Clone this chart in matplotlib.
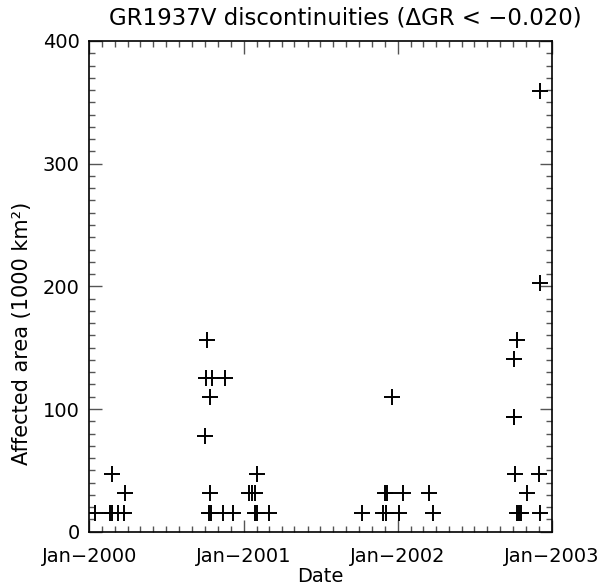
import numpy as np
import pandas as pd
import matplotlib
matplotlib.use("Agg")
import matplotlib.pyplot as plt
import matplotlib.dates as mdates

# discontinuity dates and affected area (1000 km^2)
dates = ["2000-01-14", "2000-02-20", "2000-02-23", "2000-02-24", "2000-03-08",
         "2000-03-24", "2000-03-26", "2000-10-02", "2000-10-04", "2000-10-06",
         "2000-10-11", "2000-10-14", "2000-10-14", "2000-10-16", "2000-10-17",
         "2000-11-13", "2000-11-18", "2000-12-07",
         "2001-01-14", "2001-01-21", "2001-01-28", "2001-01-28", "2001-02-01",
         "2001-02-02", "2001-03-01", "2001-10-07", "2001-11-27", "2001-12-01",
         "2001-12-03", "2001-12-05", "2001-12-18",
         "2002-01-04", "2002-01-14", "2002-03-16", "2002-03-26", "2002-10-02",
         "2002-10-03", "2002-10-04", "2002-10-05", "2002-10-11", "2002-10-11",
         "2002-10-15", "2002-10-19", "2002-11-02", "2002-12-02", "2002-12-03",
         "2002-12-04", "2002-12-04"]
area = [15.6, 15.6, 15.6, 46.9, 15.6,
        15.6, 31.2, 78.1, 125.0, 156.2,
        15.6, 109.4, 31.2, 15.6, 125.0,
        15.6, 125.0, 15.6,
        31.2, 31.2, 31.2, 15.6, 46.9,
        15.6, 15.6, 15.6, 15.6, 31.2,
        15.6, 31.2, 109.4,
        15.6, 31.2, 31.2, 15.6, 93.8,
        140.6, 93.8, 46.9, 156.2, 15.6,
        15.6, 15.6, 31.2, 46.9, 15.6,
        203.1, 359.4]

year_ticks = ["2000-01-01", "2001-01-01", "2002-01-01", "2003-01-01"]

plt.rcParams['font.family'] = ['DejaVu Sans']

fig = plt.figure(figsize=(6.02, 5.87), dpi=100)
ax = fig.add_axes([89.3 / 602, 1 - 531.7 / 587, (552 - 89.3) / 602, (531.7 - 41) / 587])

x = pd.to_datetime(dates)
ax.plot(x, area, linestyle='none', marker='+', markersize=11.5,
        markeredgewidth=1.4, color='black')

ax.set_xlim(pd.Timestamp(year_ticks[0]), pd.Timestamp(year_ticks[-1]))
ax.set_ylim(0, 400)

ax.xaxis.set_major_locator(mdates.YearLocator())
ax.xaxis.set_minor_locator(mdates.MonthLocator())
ax.xaxis.set_major_formatter(mdates.DateFormatter("Jan\u2212%Y"))
ax.set_yticks(np.arange(0, 401, 100))
ax.set_yticks(np.arange(0, 401, 10), minor=True)

for sp in ax.spines.values():
    sp.set_linewidth(1.2)

ax.tick_params(which='both', direction='in', top=True, right=True,
               color='#555555', width=1.0, labelsize=14)
ax.tick_params(which='major', length=9)
ax.tick_params(which='minor', length=4.5)
ax.tick_params(axis='x', pad=11)
ax.tick_params(axis='y', pad=7)

fig.text(345 / 602, 1 - 18 / 587, "GR1937V discontinuities (\u0394GR < \u22120.020)",
         ha='center', va='center', fontsize=16.5)
fig.text(320.6 / 602, 1 - 577 / 587, "Date", ha='center', va='center', fontsize=14)
fig.text(22 / 602, 1 - 333 / 587, "Affected area (1000 km\u00b2)", ha='center',
         va='center', rotation=90, fontsize=15)

fig.savefig("out.png", dpi=100)
